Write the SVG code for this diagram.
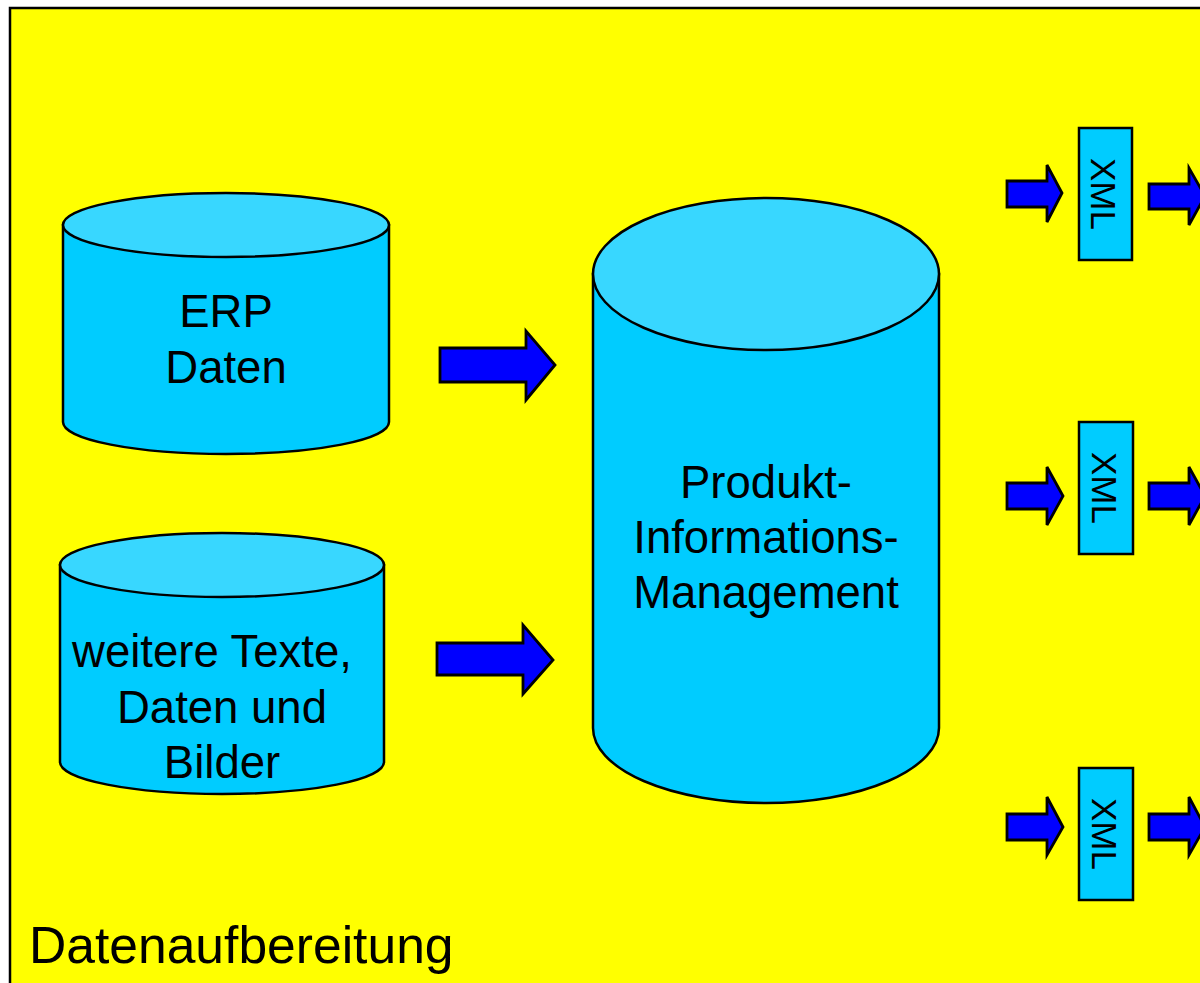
<svg xmlns="http://www.w3.org/2000/svg" width="1200" height="983" viewBox="0 0 1200 983">
<style>
.bg{fill:#FFFF00;stroke:#000;stroke-width:2.5}
.body{fill:#00CCFF;stroke:#000;stroke-width:2.5}
.top{fill:#38D7FF;stroke:#000;stroke-width:2.5}
.arr{fill:#0000FF;stroke:#000;stroke-width:2.8;stroke-linejoin:miter}
.box{fill:#00CCFF;stroke:#000;stroke-width:2.5}
.t{font-family:"Liberation Sans",Arial,sans-serif;fill:#000;text-anchor:middle}
.big{font-size:45.5px}
.xml{font-size:35px}
</style>
<rect class="bg" x="10" y="8" width="1200" height="990"/>
<g id="erp">
<path class="body" d="M63,225 L63,422 A163,32 0 0 0 389,422 L389,225 Z"/>
<ellipse class="top" cx="226" cy="225" rx="163" ry="32"/>
<text class="t big" x="226" y="327">ERP</text>
<text class="t big" x="226" y="383">Daten</text>
</g>
<g id="weitere">
<path class="body" d="M60,565 L60,762 A162,32 0 0 0 384,762 L384,565 Z"/>
<ellipse class="top" cx="222" cy="565" rx="162" ry="32"/>
<text class="t big" x="212" y="667">weitere Texte,</text>
<text class="t big" x="222" y="723">Daten und</text>
<text class="t big" x="222" y="778">Bilder</text>
</g>
<g id="pim">
<path class="body" d="M593,274 L593,728 A173,75 0 0 0 939,728 L939,274 Z"/>
<ellipse class="top" cx="766" cy="274" rx="173" ry="76"/>
<text class="t big" x="766" y="498">Produkt-</text>
<text class="t big" x="766" y="553">Informations-</text>
<text class="t big" x="766" y="608">Management</text>
</g>
<g id="xml1">
<rect class="box" x="1079" y="128" width="53" height="132"/>
<text class="t xml" transform="translate(1091,194) rotate(90)">XML</text>
</g>
<g id="xml2">
<rect class="box" x="1079" y="422" width="54" height="132"/>
<text class="t xml" transform="translate(1092,488) rotate(90)">XML</text>
</g>
<g id="xml3">
<rect class="box" x="1079" y="768" width="54" height="132"/>
<text class="t xml" transform="translate(1092,834) rotate(90)">XML</text>
</g>
<g id="connectors">
<polygon class="arr" points="440,348 526,348 526,331 555,365 526,400 526,382 440,382"/>
<polygon class="arr" points="437,643 523,643 523,625 553,660 523,694 523,675 437,675"/>
<polygon class="arr" points="1007,181 1047,181 1047,165 1062,193 1047,222 1047,207 1007,207"/>
<polygon class="arr" points="1149,184 1189,184 1189,168 1205,196 1189,225 1189,209 1149,209"/>
<polygon class="arr" points="1007,483 1047,483 1047,467 1063,496 1047,525 1047,509 1007,509"/>
<polygon class="arr" points="1149,483 1189,483 1189,467 1205,496 1189,525 1189,509 1149,509"/>
<polygon class="arr" points="1007,814 1047,814 1047,797 1063,827 1047,855 1047,840 1007,840"/>
<polygon class="arr" points="1149,814 1189,814 1189,797 1205,827 1189,855 1189,840 1149,840"/>
</g>
<text class="t" x="29" y="963" style="text-anchor:start;font-size:51.6px">Datenaufbereitung</text>
</svg>
